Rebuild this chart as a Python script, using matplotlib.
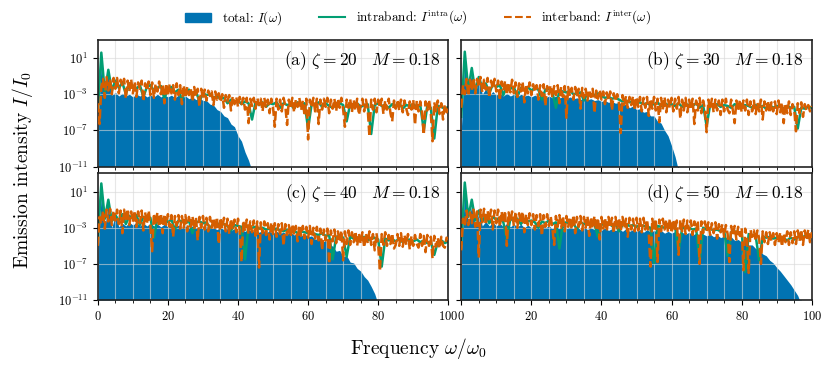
import matplotlib
matplotlib.use('Agg')
import numpy as np
import matplotlib.pyplot as plt
from matplotlib.ticker import FixedLocator, MultipleLocator, NullLocator
from matplotlib.patches import Patch
from matplotlib.lines import Line2D

plt.rcParams['font.family'] = 'serif'
plt.rcParams['font.serif'] = ['cmr10']
plt.rcParams['mathtext.fontset'] = 'cm'
plt.rcParams['axes.formatter.use_mathtext'] = True
plt.rcParams['axes.unicode_minus'] = False

# log10 of I/I0
# total: step 1 in omega, up to the cut-off
total_a = [-7.0, 0.8, -3.0, -0.7, -3.1, -2.8, -3.2, -2.9, -3.2, -3.0,
           -3.3, -3.0, -3.2, -3.0, -3.3, -3.1, -3.3, -3.0, -3.3, -3.1,
           -3.3, -3.1, -3.4, -3.1, -3.4, -3.2, -3.5, -3.3, -3.6, -3.4,
           -3.7, -3.7, -4.1, -4.2, -4.7, -4.9, -5.4, -5.6, -6.3, -6.6,
           -7.6, -8.2, -9.4, -10.3, -11.5]
total_b = [-7.0, 0.9, -3.0, -0.4, -3.0, -1.2, -3.0, -2.4, -3.1, -2.7,
           -3.1, -2.8, -3.2, -2.9, -3.2, -3.0, -3.3, -3.0, -3.2, -3.1,
           -3.3, -3.1, -3.3, -3.1, -3.4, -3.2, -3.4, -3.2, -3.4, -3.3,
           -3.5, -3.3, -3.5, -3.4, -3.6, -3.4, -3.6, -3.5, -3.7, -3.6,
           -3.8, -3.7, -3.9, -3.8, -4.0, -3.9, -4.2, -4.1, -4.5, -4.3,
           -4.7, -4.6, -5.0, -4.9, -5.4, -5.4, -6.0, -6.2, -7.0, -7.6,
           -8.7, -9.9, -11.5]
total_c = [-6.5, 1.0, -3.0, -0.2, -3.0, -1.5, -2.9, -2.5, -2.8, -2.4,
           -2.7, -2.4, -2.8, -2.5, -2.8, -2.5, -2.8, -2.6, -2.9, -2.6,
           -2.9, -2.7, -2.9, -2.7, -3.0, -2.8, -3.0, -2.8, -3.0, -2.9,
           -3.1, -2.9, -3.1, -3.0, -3.2, -3.0, -3.2, -3.1, -3.3, -3.1,
           -3.3, -3.2, -3.4, -3.2, -3.4, -3.3, -3.5, -3.3, -3.5, -3.4,
           -3.6, -3.4, -3.6, -3.5, -3.7, -3.5, -3.8, -3.6, -3.9, -3.7,
           -4.0, -3.9, -4.3, -4.1, -4.6, -4.4, -5.0, -5.0, -5.6, -5.5,
           -6.2, -6.1, -6.8, -6.9, -7.5, -7.8, -8.4, -8.8, -9.5, -10.3,
           -11.5]
total_d = [-6.0, 1.2, -2.8, -0.3, -2.9, -1.3, -2.8, -2.3, -2.8, -2.4,
           -2.8, -2.5, -2.9, -2.5, -2.9, -2.6, -2.9, -2.6, -3.0, -2.7,
           -3.0, -2.7, -3.0, -2.7, -3.0, -2.8, -3.1, -2.8, -3.1, -2.8,
           -3.1, -2.9, -3.1, -2.9, -3.2, -2.9, -3.2, -3.0, -3.2, -3.0,
           -3.3, -3.0, -3.3, -3.1, -3.3, -3.1, -3.4, -3.1, -3.4, -3.2,
           -3.4, -3.2, -3.5, -3.2, -3.5, -3.3, -3.5, -3.3, -3.6, -3.4,
           -3.6, -3.4, -3.7, -3.5, -3.7, -3.5, -3.8, -3.6, -3.8, -3.7,
           -3.9, -3.7, -4.0, -3.8, -4.1, -3.9, -4.2, -4.0, -4.4, -4.3,
           -4.6, -4.5, -4.9, -4.9, -5.3, -5.4, -5.9, -6.1, -6.6, -6.9,
           -7.4, -7.8, -8.3, -8.8, -9.3, -9.9, -10.5, -11.5]

# intraband: step 1 in omega, 0..100
intra_a = [-5.0, 1.6, -2.8, -0.3, -2.6, -1.5, -2.3, -1.7, -3.0, -1.8,
           -2.1, -2.4, -2.0, -3.3, -2.2, -2.0, -2.6, -2.3, -2.1, -3.5,
           -2.4, -2.2, -2.8, -2.5, -3.6, -2.6, -2.5, -3.0, -2.7, -3.8,
           -2.9, -3.1, -3.0, -3.4, -3.2, -3.5, -3.4, -4.0, -3.6, -3.8,
           -3.7, -4.1, -3.8, -4.0, -5.8, -3.9, -4.2, -3.9, -4.4, -4.0,
           -4.1, -3.9, -4.5, -4.0, -4.2, -4.1, -4.6, -3.9, -4.3, -4.0,
           -6.8, -4.1, -4.2, -3.9, -4.4, -4.0, -4.3, -4.5, -4.1, -4.0,
           -4.2, -6.0, -4.1, -4.3, -4.0, -4.4, -4.2, -4.1, -7.4, -4.2,
           -4.0, -4.3, -4.2, -4.5, -4.1, -4.3, -4.0, -4.6, -4.2, -4.3,
           -4.1, -4.4, -4.2, -7.0, -4.3, -4.5, -7.9, -4.3, -4.4, -4.6,
           -4.4]
intra_b = [-5.5, 1.7, -2.5, -0.1, -2.7, -1.1, -2.3, -1.8, -2.9, -1.9,
           -2.2, -2.0, -3.1, -2.1, -2.4, -2.2, -3.3, -2.3, -2.5, -2.2,
           -2.6, -2.3, -2.5, -3.6, -2.5, -2.4, -2.8, -4.5, -2.6, -2.7,
           -2.8, -2.6, -3.0, -2.9, -2.8, -3.7, -2.9, -3.0, -3.1, -2.9,
           -3.2, -3.4, -3.3, -3.5, -3.4, -3.6, -3.8, -3.7, -3.9, -3.8,
           -4.0, -3.9, -4.1, -4.0, -4.2, -4.1, -3.9, -4.3, -4.0, -4.2,
           -4.1, -4.3, -4.0, -4.4, -4.1, -4.2, -4.3, -4.0, -4.5, -4.2,
           -6.5, -4.2, -4.3, -4.1, -4.4, -4.2, -4.3, -4.5, -4.1, -4.3,
           -4.4, -4.2, -4.3, -4.5, -4.2, -4.4, -4.3, -4.6, -4.2, -4.5,
           -4.3, -4.4, -4.6, -4.3, -4.5, -4.4, -6.8, -4.5, -4.6, -4.4,
           -4.5]
intra_c = [-4.5, 1.9, -2.0, 0.1, -2.3, -1.6, -2.2, -1.5, -2.6, -1.7,
           -2.0, -1.6, -2.7, -1.8, -2.1, -1.9, -4.1, -2.0, -2.2, -1.9,
           -2.4, -2.1, -3.2, -2.2, -2.3, -2.5, -2.2, -3.6, -2.4, -2.3,
           -2.5, -2.4, -3.0, -2.6, -2.5, -2.7, -2.6, -2.8, -3.3, -2.7,
           -2.8, -2.9, -6.5, -2.8, -3.0, -2.9, -3.1, -3.0, -3.2, -3.1,
           -3.2, -3.1, -3.3, -3.4, -3.2, -3.5, -3.3, -3.6, -3.4, -3.5,
           -3.6, -3.5, -3.7, -3.8, -3.6, -3.9, -3.8, -6.5, -4.0, -3.9,
           -4.1, -6.2, -4.0, -4.2, -4.1, -4.3, -4.0, -4.4, -4.2, -4.1,
           -4.3, -7.3, -4.2, -4.4, -4.3, -4.5, -4.2, -4.6, -4.4, -4.3,
           -4.5, -4.3, -4.6, -4.4, -4.7, -4.5, -6.0, -4.6, -4.4, -4.7,
           -4.5]
intra_d = [-4.8, 2.0, -1.8, 0.1, -2.2, -1.1, -2.3, -1.6, -2.5, -1.8,
           -2.1, -1.9, -2.4, -4.2, -2.0, -2.2, -2.0, -2.6, -2.1, -2.3,
           -2.2, -2.4, -3.0, -2.3, -2.5, -2.2, -2.6, -2.4, -5.3, -2.5,
           -2.4, -2.6, -2.5, -3.2, -2.4, -2.6, -2.5, -2.7, -2.6, -4.0,
           -2.6, -2.7, -2.5, -2.8, -2.6, -3.4, -2.7, -2.6, -2.8, -2.7,
           -2.9, -2.7, -2.8, -2.9, -3.0, -6.9, -2.8, -2.9, -3.0, -2.8,
           -3.0, -2.9, -5.6, -3.1, -2.9, -3.0, -3.2, -3.1, -6.7, -3.0,
           -3.2, -3.1, -3.3, -3.2, -3.4, -3.3, -6.1, -3.5, -3.4, -3.6,
           -3.5, -7.9, -3.7, -3.8, -3.9, -6.6, -4.0, -4.1, -4.0, -4.2,
           -4.1, -4.3, -4.2, -4.4, -4.1, -4.3, -4.0, -4.2, -3.9, -4.1,
           -4.0]

# interband: step 0.5 in omega, 0..100
inter_a = [-4.0, -6.3, -2.2, -1.3, -3.4, -1.1, -2.6, -1.3, -3.0, -1.2,
           -2.4, -1.2, -2.9, -1.4, -2.1, -1.3, -3.5, -1.5, -2.7, -1.3,
           -2.9, -1.6, -3.3, -1.7, -2.4, -1.5, -3.8, -1.8, -2.6, -1.6,
           -3.1, -1.7, -3.4, -1.8, -2.7, -1.6, -3.0, -1.9, -4.0, -1.8,
           -3.2, -1.9, -2.9, -2.0, -3.6, -1.8, -3.1, -2.0, -4.1, -2.0,
           -3.4, -2.2, -3.1, -2.3, -3.8, -2.2, -3.3, -2.4, -4.4, -2.4,
           -3.5, -2.5, -3.7, -2.6, -3.2, -2.7, -4.2, -2.7, -3.6, -2.9,
           -3.9, -3.0, -4.5, -3.1, -3.8, -3.1, -4.8, -3.2, -4.1, -3.3,
           -4.4, -3.3, -4.1, -3.4, -4.7, -3.4, -6.2, -3.5, -4.3, -3.4,
           -4.6, -3.4, -4.2, -3.5, -4.9, -3.4, -4.4, -3.6, -5.1, -3.5,
           -4.5, -6.6, -3.5, -4.7, -3.6, -4.9, -3.4, -4.3, -6.4, -3.6,
           -4.6, -3.4, -5.0, -3.6, -4.4, -3.4, -4.8, -3.7, -5.4, -3.5,
           -8.0, -3.6, -4.5, -3.4, -4.9, -3.5, -6.3, -3.6, -4.7, -3.5,
           -4.4, -3.4, -5.1, -3.6, -4.6, -3.5, -4.9, -3.5, -4.5, -3.4,
           -4.7, -6.6, -3.6, -4.5, -3.5, -5.0, -3.6, -4.8, -3.5, -5.3,
           -4.3, -3.5, -4.9, -3.6, -4.6, -7.7, -3.6, -4.7, -3.5, -5.0,
           -3.6, -4.5, -3.5, -5.2, -3.7, -4.7, -3.5, -5.1, -6.0, -3.7,
           -4.6, -3.6, -4.8, -3.6, -5.0, -3.7, -4.6, -5.3, -3.8, -4.7,
           -3.6, -6.4, -3.7, -4.9, -3.8, -5.1, -7.5, -3.8, -4.8, -3.6,
           -5.0, -8.2, -3.9, -4.9, -3.7, -5.2, -4.0, -5.8, -4.1, -5.0,
           -4.6]
inter_b = [-4.5, -2.0, -3.0, -1.3, -3.2, -1.4, -2.6, -1.2, -2.9, -1.3,
           -2.2, -1.1, -2.8, -1.4, -2.5, -1.2, -3.4, -1.5, -2.4, -1.3,
           -2.7, -1.5, -3.7, -1.6, -2.6, -1.5, -3.1, -1.7, -2.8, -1.4,
           -2.9, -1.7, -3.3, -1.8, -2.7, -1.6, -3.9, -1.9, -2.9, -1.7,
           -3.1, -1.9, -2.8, -2.0, -3.6, -2.0, -3.2, -1.9, -4.3, -2.1,
           -3.0, -2.0, -3.4, -2.1, -3.1, -2.0, -4.0, -2.2, -3.3, -2.1,
           -5.6, -2.2, -3.2, -2.3, -3.6, -2.2, -3.3, -2.4, -4.6, -2.3,
           -3.4, -2.4, -3.7, -2.5, -3.3, -2.4, -5.1, -2.6, -3.5, -2.5,
           -3.6, -2.7, -4.1, -2.8, -3.7, -2.7, -4.8, -2.9, -3.8, -3.0,
           -4.0, -7.3, -3.1, -4.2, -3.2, -4.5, -3.3, -4.2, -3.2, -4.8,
           -3.3, -4.4, -3.3, -4.9, -3.4, -4.5, -3.3, -5.4, -3.5, -4.6,
           -3.3, -4.8, -3.5, -6.1, -3.4, -4.7, -3.3, -5.0, -3.6, -4.5,
           -3.4, -4.9, -3.5, -4.6, -3.3, -5.7, -3.6, -4.8, -3.4, -5.0,
           -3.6, -4.7, -3.5, -6.3, -3.7, -4.8, -3.4, -5.1, -3.7, -4.6,
           -7.2, -3.6, -4.7, -3.5, -5.0, -3.6, -4.8, -3.7, -5.3, -3.6,
           -4.9, -3.5, -4.7, -5.1, -3.6, -4.8, -6.2, -3.7, -4.9, -3.6,
           -5.0, -3.7, -4.8, -3.6, -5.3, -3.8, -4.9, -3.7, -5.2, -3.9,
           -4.9, -3.6, -5.8, -3.8, -4.8, -3.7, -5.1, -3.9, -4.9, -3.8,
           -5.2, -3.7, -5.0, -3.9, -6.2, -4.0, -5.1, -3.8, -5.3, -4.1,
           -4.7, -7.1, -4.0, -5.1, -3.9, -5.5, -4.1, -4.8, -4.2, -4.9,
           -4.3]
inter_c = [-5.0, -1.8, -2.6, -1.1, -3.1, -1.0, -2.3, -0.9, -2.7, -1.1,
           -2.2, -1.0, -2.6, -1.1, -3.6, -1.0, -2.3, -0.9, -2.7, -1.2,
           -2.4, -1.1, -2.9, -1.2, -2.5, -1.1, -3.3, -1.3, -2.6, -1.1,
           -2.8, -5.6, -1.4, -2.7, -1.3, -2.9, -1.4, -3.6, -1.5, -2.7,
           -1.5, -2.9, -1.6, -4.0, -1.7, -2.8, -1.6, -3.1, -1.7, -3.0,
           -1.6, -3.4, -1.8, -2.9, -1.7, -3.2, -1.8, -4.4, -1.8, -3.0,
           -1.7, -3.2, -1.9, -3.4, -1.8, -3.0, -1.9, -3.3, -1.8, -4.8,
           -1.9, -3.1, -1.9, -3.4, -2.0, -3.7, -2.0, -3.2, -2.1, -3.5,
           -2.0, -3.3, -6.8, -2.2, -3.4, -2.1, -3.7, -2.3, -3.5, -2.2,
           -3.9, -2.3, -7.4, -2.4, -3.6, -2.3, -3.8, -2.5, -4.3, -2.4,
           -3.7, -2.5, -4.0, -2.6, -3.7, -2.5, -5.0, -2.6, -3.8, -2.7,
           -4.0, -2.6, -3.8, -2.8, -4.5, -2.7, -3.9, -2.8, -4.2, -2.9,
           -4.1, -2.8, -4.8, -3.0, -4.2, -2.9, -4.4, -3.1, -5.5, -3.2,
           -4.4, -3.1, -7.0, -3.3, -4.5, -3.2, -4.7, -3.4, -4.6, -3.3,
           -6.6, -3.4, -4.8, -3.3, -4.9, -3.5, -4.6, -3.4, -5.0, -3.6,
           -4.8, -3.5, -5.2, -3.6, -4.7, -3.4, -4.9, -3.7, -5.5, -3.6,
           -4.9, -7.8, -3.7, -4.9, -3.5, -5.0, -3.8, -4.8, -3.6, -5.3,
           -4.9, -3.7, -5.0, -3.6, -5.1, -3.8, -4.9, -3.7, -5.4, -3.9,
           -5.0, -3.8, -4.8, -5.2, -3.7, -5.0, -3.9, -5.7, -3.8, -5.0,
           -4.0, -6.4, -3.9, -5.1, -4.1, -5.3, -4.0, -5.0, -5.2, -4.1,
           -4.2]
inter_d = [-5.5, -2.0, -2.8, -1.1, -2.7, -1.3, -2.5, -1.0, -2.9, -1.2,
           -6.3, -1.0, -2.4, -0.9, -2.7, -1.1, -2.2, -1.0, -3.2, -1.1,
           -2.5, -1.0, -2.9, -1.2, -2.5, -1.1, -5.0, -1.3, -2.4, -1.2,
           -2.8, -1.2, -3.0, -1.4, -2.5, -1.2, -3.5, -1.5, -2.7, -1.4,
           -2.7, -1.5, -3.2, -1.6, -2.8, -1.5, -3.9, -1.6, -2.9, -1.5,
           -2.8, -1.7, -3.1, -4.9, -1.7, -2.9, -1.6, -3.0, -1.7, -3.4,
           -1.7, -2.9, -1.8, -3.2, -1.6, -3.6, -1.8, -2.9, -1.7, -3.3,
           -1.8, -3.0, -1.7, -3.9, -1.8, -3.1, -1.7, -3.3, -1.9, -4.3,
           -1.8, -3.1, -1.9, -3.4, -1.8, -3.0, -1.9, -3.6, -1.8, -3.2,
           -1.9, -3.4, -1.8, -3.1, -2.0, -4.0, -1.9, -3.2, -2.0, -3.4,
           -1.9, -3.3, -2.0, -3.5, -1.9, -3.2, -2.1, -3.7, -7.3, -2.0,
           -3.3, -2.0, -6.8, -2.1, -3.4, -2.0, -3.2, -2.1, -3.5, -2.0,
           -3.6, -2.1, -3.3, -2.2, -6.0, -2.1, -3.4, -2.1, -3.7, -2.2,
           -3.3, -2.2, -3.8, -2.3, -3.4, -2.2, -7.0, -2.3, -3.6, -2.3,
           -3.4, -2.4, -3.8, -2.5, -3.6, -2.4, -4.2, -2.6, -3.5, -2.6,
           -4.0, -2.7, -3.7, -6.8, -2.8, -3.9, -2.8, -4.3, -2.9, -3.9,
           -3.0, -7.7, -3.1, -4.1, -8.0, -3.2, -4.0, -3.3, -4.5, -3.3,
           -4.2, -7.0, -3.4, -4.6, -3.5, -4.8, -3.5, -4.5, -3.6, -4.9,
           -3.6, -4.7, -3.5, -5.1, -3.6, -4.6, -3.4, -4.9, -3.5, -4.7,
           -3.4, -4.8, -3.3, -4.5, -3.2, -4.9, -3.3, -4.4, -3.2, -4.6,
           -3.5]

panel_tags = ['(a)', '(b)', '(c)', '(d)']
zetas = [20, 30, 40, 50]
mass = 0.18
totals = [total_a, total_b, total_c, total_d]
intras = [intra_a, intra_b, intra_c, intra_d]
inters = [inter_a, inter_b, inter_c, inter_d]

c_tot = '#0173B2'
c_intra = '#029E73'
c_inter = '#D55E00'
floor = 1e-11

fig, axes = plt.subplots(2, 2, figsize=(8.36, 3.70), dpi=100, sharex=True, sharey=True)
fig.subplots_adjust(left=0.117, right=0.971, top=0.892, bottom=0.189,
                    wspace=0.037, hspace=0.055)

for i, ax in enumerate(axes.flat):
    tot = 10.0 ** np.array(totals[i])
    w_tot = np.arange(len(tot))
    intra = 10.0 ** np.array(intras[i])
    w_intra = np.arange(len(intra))
    inter = 10.0 ** np.array(inters[i])
    w_inter = np.arange(len(inter)) * 0.5

    ax.fill_between(w_tot, floor, tot, color=c_tot, lw=0, zorder=1)
    ax.plot(w_intra, intra, color=c_intra, lw=1.8, zorder=2)
    ax.plot(w_inter, inter, color=c_inter, lw=1.8, ls='--', zorder=3)

    ax.set_yscale('log')
    ax.set_ylim(1e-11, 1e3)
    ax.set_xlim(0, 100)
    ax.yaxis.set_major_locator(FixedLocator([1e-11, 1e-7, 1e-3, 1e1]))
    ax.yaxis.set_minor_locator(NullLocator())
    ax.xaxis.set_major_locator(MultipleLocator(20))
    ax.xaxis.set_minor_locator(MultipleLocator(5))
    ax.set_axisbelow('line')
    ax.grid(True, which='both', axis='x', color='#d8d8d8', lw=0.8, alpha=0.6)
    ax.grid(True, which='major', axis='y', color='#d8d8d8', lw=0.8, alpha=0.6)
    ax.tick_params(labelsize=9)
    for s in ax.spines.values():
        s.set_linewidth(1.2)
        s.set_color('#222222')
    ax.text(0.977, 0.93, panel_tags[i] + r' $\zeta = %d\quad M = %.2f$' % (zetas[i], mass),
            transform=ax.transAxes, ha='right', va='top', fontsize=12.5)

fig.supylabel(r'Emission intensity $I/I_0$', x=0.012, y=0.54, fontsize=14)
fig.supxlabel(r'Frequency $\omega/\omega_0$', x=0.5, y=0.025, fontsize=14)

handles = [Patch(color=c_tot, label=r'total: $I(\omega)$'),
           Line2D([], [], color=c_intra, lw=1.5, label=r'intraband: $I^{\mathrm{intra}}(\omega)$'),
           Line2D([], [], color=c_inter, lw=1.5, ls='--', label=r'interband: $I^{\mathrm{inter}}(\omega)$')]
fig.legend(handles=handles, loc='center', bbox_to_anchor=(0.5, 0.951), ncol=3,
           frameon=False, fontsize=9.5, columnspacing=2.8, handlelength=2.0)

plt.savefig('out.png', dpi=100)
